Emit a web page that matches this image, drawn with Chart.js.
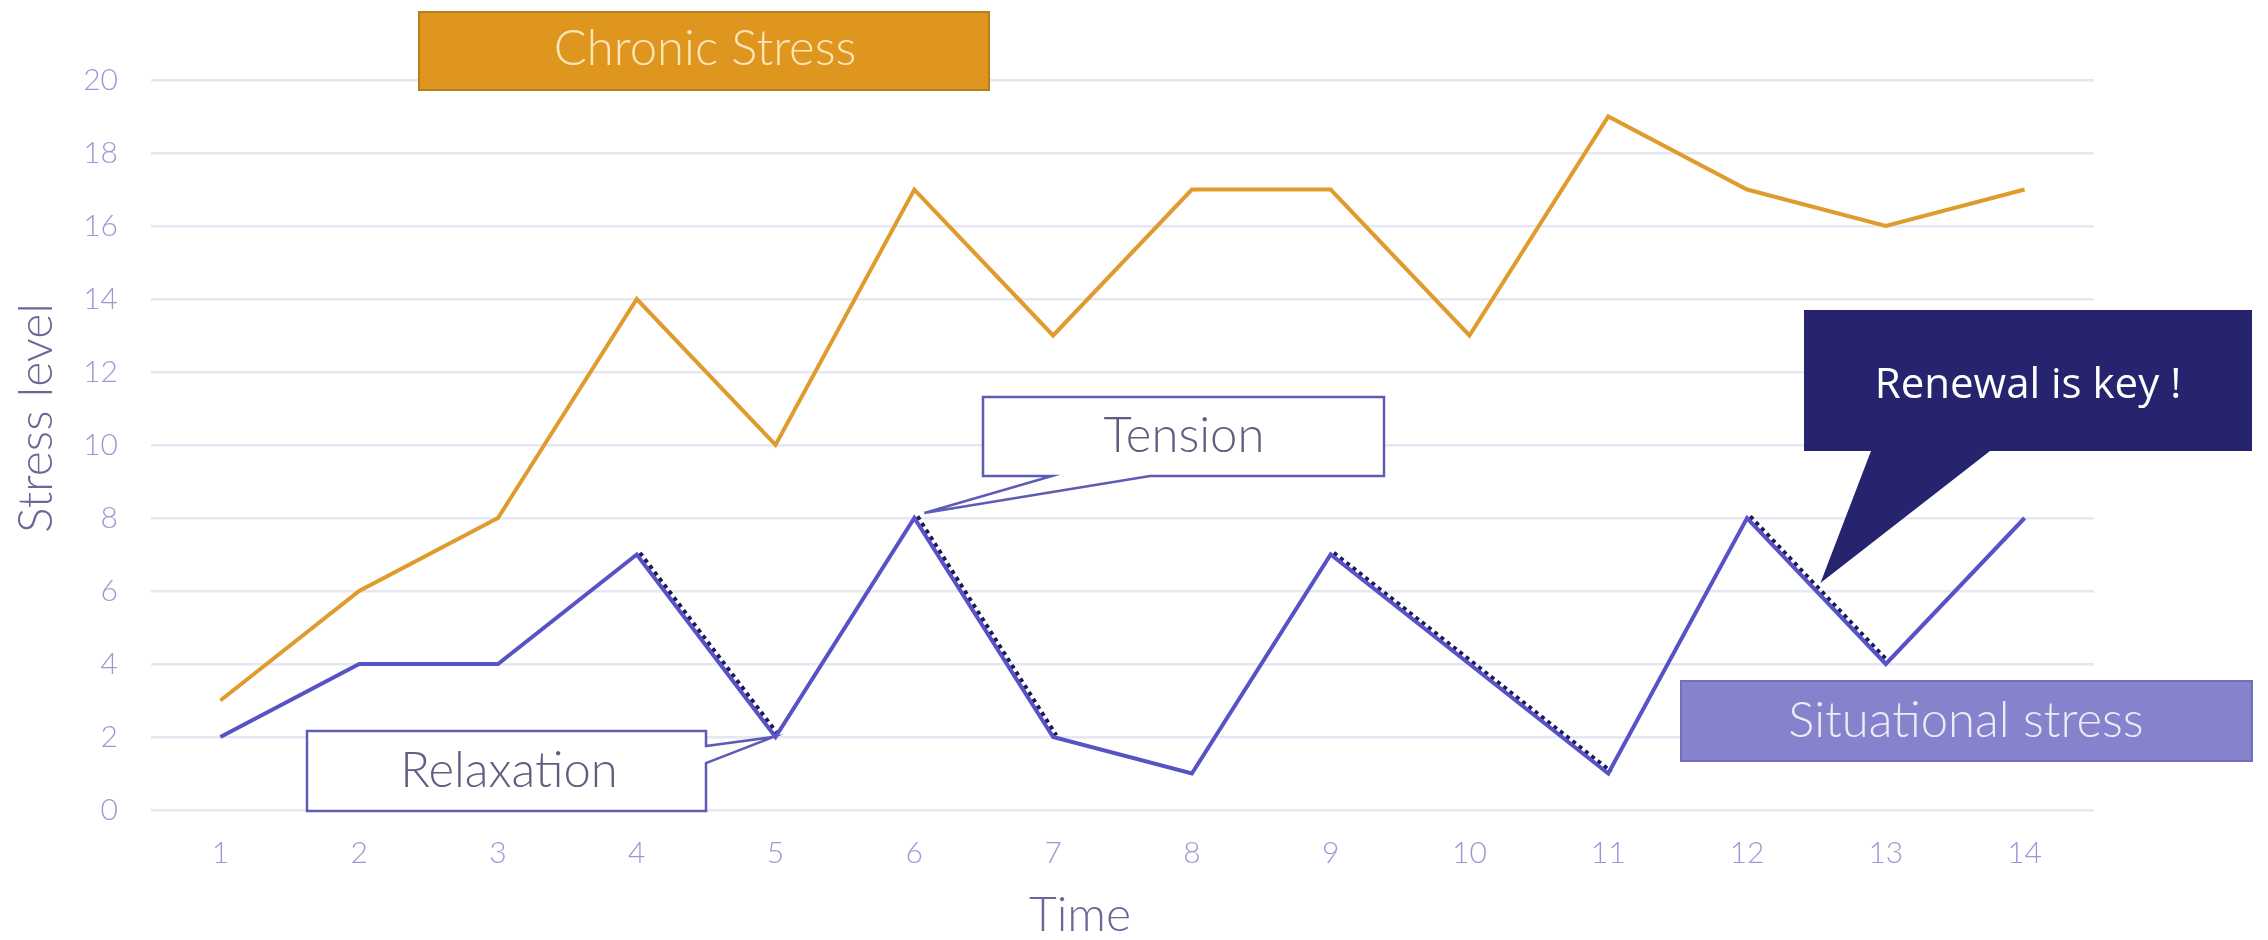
<!DOCTYPE html>
<html>
<head>
<meta charset="utf-8">
<title>Stress level over time</title>
<script src="https://cdn.jsdelivr.net/npm/chart.js@4.4.1/dist/chart.umd.min.js"></script>
<style>
  html, body { margin: 0; padding: 0; background: #ffffff; }
  #wrap { width: 2268px; height: 940px; }
</style>
</head>
<body>
<div id="wrap"><canvas id="chart" width="2268" height="940"></canvas></div>
<script>
// ---- data ----
const timeLabels = ['1', '2', '3', '4', '5', '6', '7', '8', '9', '10', '11', '12', '13', '14'];
const chronicStress = [3, 6, 8, 14, 10, 17, 13, 17, 17, 13, 19, 17, 16, 17];
const situationalStress = [2, 4, 4, 7, 2, 8, 2, 1, 7, 4, 1, 8, 4, 8];
// relaxation stretches of the situational curve (time steps, inclusive)
const relaxationPhases = [[4, 5], [6, 7], [9, 11], [12, 13]];
const yMin = 0;
const yMax = 20;
const yStep = 2;

// ---- palette ----
const ORANGE = '#E09B2D';
const BLUE = '#5753C6';
const NAVY = '#1C1958';
const GRID = '#E7E6F3';
const TICK = '#9C98D4';
const TITLE = '#6A6898';
const LIGHT = '300';

const relaxationSets = relaxationPhases.map(([from, to]) => ({
  label: 'Relaxation ' + from + '-' + to,
  data: situationalStress.map((v, i) => (i + 1 >= from && i + 1 <= to) ? v : null),
  borderColor: NAVY,
  borderWidth: 4.5,
  borderDash: [4, 4],
  borderCapStyle: 'butt',
  pointRadius: 0,
  spanGaps: false,
  shifted: true
}));

// dotted relaxation strokes sit just beside the situational curve
const shiftPlugin = {
  id: 'shiftDotted',
  beforeDatasetDraw(chart, args) {
    if (chart.data.datasets[args.index].shifted) {
      chart.ctx.save();
      chart.ctx.translate(3, -1.5);
    }
  },
  afterDatasetDraw(chart, args) {
    if (chart.data.datasets[args.index].shifted) chart.ctx.restore();
  }
};

function calloutPath(ctx, pts) {
  ctx.beginPath();
  ctx.moveTo(pts[0][0], pts[0][1]);
  for (let i = 1; i < pts.length; i++) ctx.lineTo(pts[i][0], pts[i][1]);
  ctx.closePath();
}

function label(ctx, text, x, y, font, color) {
  ctx.font = font;
  ctx.fillStyle = color;
  ctx.textAlign = 'center';
  ctx.textBaseline = 'alphabetic';
  ctx.fillText(text, x, y);
}

// boxes, callouts and axis titles
const notesPlugin = {
  id: 'notes',
  afterDatasetsDraw(chart) {
    const ctx = chart.ctx;
    const xs = chart.scales.x, ys = chart.scales.y;
    const pt = (i) => [xs.getPixelForValue(i), ys.getPixelForValue(situationalStress[i])];
    ctx.save();
    ctx.lineJoin = 'miter';

    // Chronic Stress tag
    ctx.fillStyle = '#DF961F';
    ctx.fillRect(419, 12, 570, 78);
    ctx.strokeStyle = '#B97B1C';
    ctx.lineWidth = 2;
    ctx.strokeRect(419, 12, 570, 78);
    label(ctx, 'Chronic Stress', 705, 65, LIGHT + ' 49px Lato', '#FCE6B8');

    // Tension callout, pointing at the peak at time 6
    const p6 = pt(5);
    const tTip = [p6[0] + 10, p6[1] - 5];
    calloutPath(ctx, [[983, 397], [1384, 397], [1384, 476], [1150, 476], tTip, [1052, 476], [983, 476]]);
    ctx.fillStyle = '#FFFFFF';
    ctx.fill();
    ctx.strokeStyle = '#5E5BB6';
    ctx.lineWidth = 2.5;
    ctx.stroke();
    label(ctx, 'Tension', 1184, 452, LIGHT + ' 49px Lato', '#5F5E80');

    // Relaxation callout, pointing at the trough at time 5
    const p5 = pt(4);
    const rTip = [p5[0] - 2, p5[1]];
    calloutPath(ctx, [[307, 731], [706, 731], [706, 746], rTip, [706, 763], [706, 811], [307, 811]]);
    ctx.fillStyle = '#FFFFFF';
    ctx.fill();
    ctx.strokeStyle = '#5E5BB6';
    ctx.lineWidth = 2.5;
    ctx.stroke();
    label(ctx, 'Relaxation', 509, 787, LIGHT + ' 49px Lato', '#5F5E80');

    // Renewal callout, pointing at the drop between times 12 and 13
    const a = pt(11), b = pt(12);
    const nTip = [(a[0] + b[0]) / 2 + 4, (a[1] + b[1]) / 2 - 8];
    calloutPath(ctx, [[1804, 310], [2252, 310], [2252, 451], [1990, 451], nTip, [1871, 451], [1804, 451]]);
    ctx.fillStyle = '#27246F';
    ctx.fill();
    label(ctx, 'Renewal is key !', 2028, 398, '42px "Open Sans"', '#FFFFFF');

    // Situational stress tag
    ctx.fillStyle = '#8682CB';
    ctx.fillRect(1681, 681, 571, 80);
    ctx.strokeStyle = '#726EBA';
    ctx.lineWidth = 2;
    ctx.strokeRect(1681, 681, 571, 80);
    label(ctx, 'Situational stress', 1966, 737, LIGHT + ' 49px Lato', '#ECEBF8');

    // axis titles
    label(ctx, 'Time', 1080, 931, LIGHT + ' 48px Lato', TITLE);
    ctx.translate(52, 418);
    ctx.rotate(-Math.PI / 2);
    label(ctx, 'Stress level', 0, 0, LIGHT + ' 48px Lato', TITLE);
    ctx.restore();
  }
};

new Chart(document.getElementById('chart'), {
  type: 'line',
  data: {
    labels: timeLabels,
    datasets: [
      {
        label: 'Chronic Stress',
        data: chronicStress,
        borderColor: ORANGE,
        borderWidth: 4,
        borderJoinStyle: 'miter',
        pointRadius: 0,
        tension: 0
      },
      {
        label: 'Situational stress',
        data: situationalStress,
        borderColor: BLUE,
        borderWidth: 4,
        borderJoinStyle: 'miter',
        pointRadius: 0,
        tension: 0
      },
      ...relaxationSets
    ]
  },
  options: {
    responsive: false,
    animation: false,
    devicePixelRatio: 1,
    layout: { padding: { top: 80, right: 174, left: 0, bottom: 0 } },
    plugins: {
      legend: { display: false },
      tooltip: { enabled: false }
    },
    scales: {
      x: {
        offset: true,
        grid: { display: false, drawTicks: false },
        border: { display: false },
        ticks: {
          color: TICK,
          padding: 25,
          font: { family: 'Lato', size: 30, weight: LIGHT },
          maxRotation: 0
        },
        afterFit(scale) { scale.height = 130; }
      },
      y: {
        min: yMin,
        max: yMax,
        grid: { color: GRID, lineWidth: 2.5, drawTicks: false },
        border: { display: false },
        ticks: {
          stepSize: yStep,
          color: TICK,
          padding: 33,
          font: { family: 'Lato', size: 30, weight: LIGHT }
        },
        afterFit(scale) { scale.width = 151; }
      }
    }
  },
  plugins: [shiftPlugin, notesPlugin]
});
</script>
</body>
</html>
